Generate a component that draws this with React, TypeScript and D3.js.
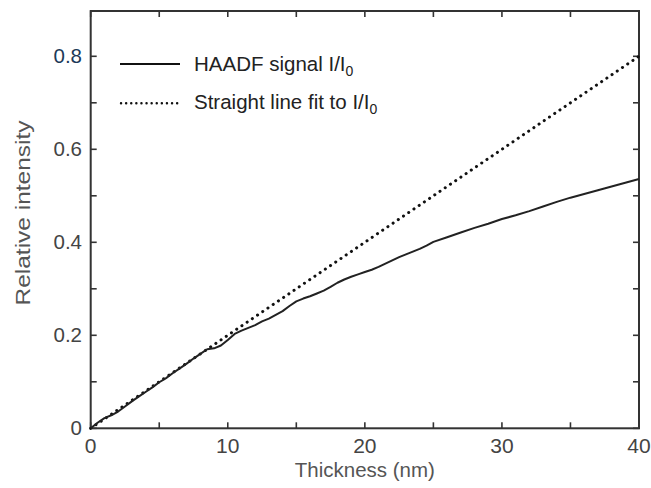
import React from "react";
import * as d3 from "d3";

const thickness = [0, 0.5, 1, 1.5, 2, 2.5, 3, 3.5, 4, 4.5, 5, 5.5, 6, 6.5, 7, 7.5, 8, 8.5, 9, 9.5, 10, 10.5, 11, 11.5, 12, 12.5, 13, 13.5, 14, 14.5, 15, 15.5, 16, 16.5, 17, 17.5, 18, 18.5, 19, 19.5, 20, 20.5, 21, 21.5, 22, 22.5, 23, 23.5, 24, 24.5, 25, 26, 27, 28, 29, 30, 31, 32, 33, 34, 35, 36, 37, 38, 39, 40];
const haadf = [0, 0.012, 0.022, 0.028, 0.036, 0.047, 0.058, 0.068, 0.078, 0.088, 0.099, 0.108, 0.119, 0.129, 0.139, 0.15, 0.16, 0.17, 0.172, 0.178, 0.19, 0.203, 0.21, 0.216, 0.222, 0.23, 0.236, 0.244, 0.252, 0.263, 0.273, 0.279, 0.284, 0.29, 0.296, 0.304, 0.313, 0.32, 0.326, 0.331, 0.336, 0.341, 0.347, 0.354, 0.361, 0.368, 0.374, 0.38, 0.386, 0.393, 0.401, 0.411, 0.421, 0.431, 0.44, 0.45, 0.458, 0.467, 0.477, 0.487, 0.496, 0.504, 0.512, 0.52, 0.528, 0.536];
const fitX = [0, 40];
const fitY = [0, 0.8];
const xMajor = [0, 10, 20, 30, 40];
const xMinor = [0, 5, 10, 15, 20, 25, 30, 35, 40];
const yMajor = [0, 0.2, 0.4, 0.6, 0.8];
const yMinor = [0, 0.1, 0.2, 0.3, 0.4, 0.5, 0.6, 0.7, 0.8];
const legendLabels = ["HAADF signal I/I", "Straight line fit to I/I"];

export default function App() {
  const W = 651, H = 488;
  const L = 90.7, R = 639, T = 11, B = 428.3;
  const x = d3.scaleLinear().domain([0, 40]).range([L, R]);
  const y = d3.scaleLinear().domain([0, 0.8]).range([B, B - 0.8 * 465]);
  const line = d3.line<[number, number]>().x(d => x(d[0])).y(d => y(d[1]));
  const curve = line(thickness.map((t, i) => [t, haadf[i]] as [number, number])) || "";
  const fit = line(fitX.map((t, i) => [t, fitY[i]] as [number, number])) || "";
  const font = "'Liberation Sans', Arial, sans-serif";
  const tk = 6;
  return (
    <svg width={W} height={H} style={{ position: "absolute", left: 0, top: 0, background: "#fff" }} fontFamily={font}>
      <rect x={0} y={0} width={W} height={H} fill="#fff" />
      {xMinor.map(v => (
        <g key={"x" + v} stroke="#333" strokeWidth={1.6}>
          <line x1={x(v)} x2={x(v)} y1={B} y2={B - tk} />
          <line x1={x(v)} x2={x(v)} y1={T} y2={T + tk} />
        </g>
      ))}
      {yMinor.map(v => (
        <g key={"y" + v} stroke="#333" strokeWidth={1.6}>
          <line x1={L} x2={L + tk} y1={y(v)} y2={y(v)} />
          <line x1={R} x2={R - tk} y1={y(v)} y2={y(v)} />
        </g>
      ))}
      <rect x={L} y={T} width={R - L} height={B - T} fill="none" stroke="#333" strokeWidth={2} />
      {xMajor.map(v => (
        <text key={"xl" + v} x={x(v)} y={453} textAnchor="middle" fontSize={21} fill="#444">{v}</text>
      ))}
      {yMajor.map(v => (
        <text key={"yl" + v} x={82} y={y(v) + 7} textAnchor="end" fontSize={20.5} fill={v === 0.8 ? "#1c3a58" : "#444"}>{v === 0 ? "0" : v.toFixed(1)}</text>
      ))}
      <text x={(L + R) / 2} y={477} textAnchor="middle" fontSize={20.5} fill="#555">Thickness (nm)</text>
      <text transform={`translate(30,${213}) rotate(-90)`} textAnchor="middle" fontSize={21} fill="#555" textLength={185} lengthAdjust="spacingAndGlyphs">Relative intensity</text>
      <path d={fit} fill="none" stroke="#111" strokeWidth={3} strokeLinecap="round" strokeDasharray="0.1 6.2" />
      <path d={curve} fill="none" stroke="#222" strokeWidth={2} strokeLinejoin="round" />
      <line x1={120} x2={180} y1={64} y2={64} stroke="#111" strokeWidth={2.2} />
      <line x1={121} x2={179} y1={103.3} y2={103.3} stroke="#111" strokeWidth={2.4} strokeLinecap="round" strokeDasharray="0.1 5" />
      <text x={194} y={71} fontSize={20.5} fill="#222">{legendLabels[0]}<tspan fontSize={14} dy={5}>0</tspan></text>
      <text x={194} y={108.5} fontSize={20.5} fill="#222">{legendLabels[1]}<tspan fontSize={14} dy={5}>0</tspan></text>
    </svg>
  );
}
